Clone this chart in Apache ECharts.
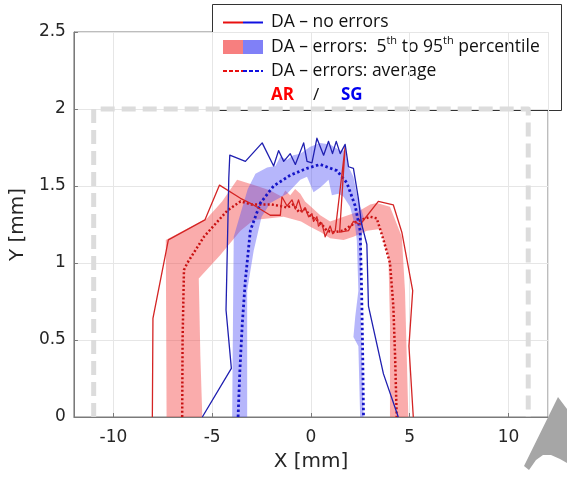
<!DOCTYPE html>
<html><head><meta charset="utf-8">
<script src="https://cdn.jsdelivr.net/npm/echarts@6/dist/echarts.min.js"></script>
<style>html,body{margin:0;padding:0;background:#fff}#c{width:567px;height:481px}</style>
</head><body><div id="c"></div>
<script>
// ---- data (mm) ----
const xRange = [-12, 12];
const yRange = [0, 2.5];
const yStep = 0.5;
const boundaryBox = [[-11,0],[-11,2],[11,2],[11,0]];

const arNoErrors = [[-8.03,0],[-8.0,0.64],[-7.22,1.15],[-5.37,1.28],[-4.63,1.506],[-3.57,1.42],[-2.91,1.377],[-2.06,1.31],[-1.55,1.31],[-1.47,1.43],[-1.21,1.37],[-0.96,1.41],[-0.79,1.35],[-0.63,1.41],[-0.45,1.33],[-0.3,1.36],[-0.12,1.30],[0.05,1.32],[0.13,1.27],[0.3,1.30],[0.38,1.24],[0.55,1.26],[0.72,1.17],[0.97,1.24],[1.1,1.19],[1.23,1.21],[1.73,1.755],[1.45,1.20],[1.9,1.21],[2.15,1.27],[2.49,1.25],[3.41,1.40],[4.17,1.377],[4.6,1.2],[5.15,0.82],[4.96,0.46],[5.18,0]];

const sgNoErrors = [[-5.5,0],[-4.03,0.316],[-4.3,0.695],[-4.25,1.0],[-4.16,1.55],[-4.11,1.70],[-3.32,1.66],[-2.47,1.78],[-1.89,1.63],[-1.64,1.73],[-1.38,1.66],[-1.05,1.71],[-0.79,1.64],[-0.37,1.78],[-0.2,1.66],[0.05,1.65],[0.3,1.81],[0.64,1.70],[0.89,1.79],[1.09,1.71],[1.28,1.79],[1.48,1.71],[1.73,1.77],[1.90,1.625],[2.15,1.615],[2.40,1.42],[2.55,1.26],[2.83,1.12],[2.91,0.72],[3.67,0.28],[4.42,0]];

const arAverage = [[-6.52,0],[-6.5,0.5],[-6.43,0.955],[-6.26,1.0],[-5.42,1.17],[-4.24,1.34],[-3.57,1.40],[-3.0,1.38],[-2.0,1.38],[-1.55,1.37],[-1.2,1.36],[-0.9,1.38],[-0.6,1.33],[-0.3,1.35],[0.0,1.30],[0.3,1.28],[0.55,1.25],[0.8,1.21],[1.14,1.20],[1.65,1.21],[2.32,1.27],[3.0,1.30],[3.33,1.29],[3.67,1.15],[4.0,1.0],[4.17,0.72],[4.26,0.39],[4.34,0]];

const sgAverage = [[-3.69,0],[-3.6,0.3],[-3.48,0.6],[-3.32,0.89],[-3.07,1.21],[-2.56,1.39],[-1.89,1.50],[-1.05,1.57],[-0.2,1.615],[0.47,1.64],[1.31,1.60],[1.82,1.52],[2.24,1.37],[2.49,1.21],[2.55,0.9],[2.57,0.78],[2.62,0.4],[2.66,0]];

const arBand = [[-7.31,0],[-7.33,0.6],[-7.35,1.15],[-6.3,1.22],[-5.26,1.29],[-4.5,1.40],[-3.74,1.54],[-2.73,1.50],[-2.06,1.47],[-1.47,1.43],[-1.3,1.47],[-1.05,1.44],[-0.8,1.48],[-0.54,1.45],[-0.3,1.40],[-0.04,1.37],[0.47,1.31],[0.97,1.27],[1.65,1.30],[2.32,1.33],[3.0,1.38],[3.33,1.39],[4.0,1.365],[4.6,1.17],[4.76,0.82],[4.85,0.39],[4.93,0],[4.0,0],[4.0,0.61],[3.92,1.04],[3.5,1.22],[2.83,1.21],[2.15,1.17],[1.65,1.15],[0.97,1.16],[0.5,1.2],[-0.04,1.235],[-0.5,1.27],[-1.38,1.30],[-2.9,1.28],[-3.57,1.21],[-4.6,1.05],[-5.68,0.90],[-5.6,0.4],[-5.5,0]];

const sgBand = [[-3.99,0],[-3.95,0.6],[-3.91,1.17],[-3.57,1.32],[-3.2,1.48],[-2.81,1.58],[-2.22,1.62],[-1.80,1.63],[-1.55,1.69],[-1.2,1.67],[-0.9,1.70],[-0.54,1.71],[-0.04,1.755],[0.47,1.78],[0.97,1.77],[1.48,1.73],[1.73,1.73],[1.9,1.625],[2.15,1.56],[2.32,1.45],[2.57,1.34],[2.66,1.30],[2.57,1.15],[2.49,0.82],[2.57,0.46],[2.66,0],[2.49,0],[2.40,0.46],[2.15,0.52],[2.24,0.65],[2.40,0.82],[2.32,1.15],[2.24,1.235],[1.98,1.365],[1.65,1.43],[1.39,1.45],[1.06,1.44],[0.89,1.54],[0.64,1.51],[0.47,1.49],[0.13,1.46],[-0.2,1.56],[-0.54,1.54],[-1.21,1.45],[-2.06,1.39],[-2.5,1.30],[-2.9,1.08],[-3.23,0.82],[-3.23,0]];

// ---- styles ----
const C = {
  arLine:'#d42424', sgLine:'#1f1fb0',
  arAvg:'#c81010', sgAvg:'#1515c8',
  arFill:'rgba(244,70,70,0.45)', sgFill:'rgba(80,80,245,0.42)',
  axis:'#7a7a7a', text:'#262626', grid:'#e6e6e6'
};

function lineSeries(name, data, color, width, type, z){
  return {type:'line', name, data, z, showSymbol:false, symbol:'none', silent:true,
    lineStyle:{color, width, type, cap:'butt', join:'round'}, animation:false};
}
function bandSeries(name, pts, color, z){
  return {type:'custom', name, data: pts, z, silent:true, clip:true, animation:false,
    encode:{x:0, y:1},
    renderItem:(params, api)=>{
      if (params.dataIndex !== 0) return null;
      return {type:'polygon', shape:{points: pts.map(p=>api.coord(p))}, style:{fill:color}};
    }};
}

const chart = echarts.init(document.getElementById('c'), null, {renderer:'canvas'});
const legendFont = '"Open Sans", sans-serif';
const LF = 17.5;
chart.setOption({
  animation:false,
  backgroundColor:'#fff',
  grid:{left:73, right:19, top:32, bottom:64, show:true, borderColor:C.axis, borderWidth:1, backgroundColor:'transparent'},
  xAxis:{type:'value', min:xRange[0], max:xRange[1], splitNumber:5,
    name:'X [mm]', nameLocation:'middle', nameGap:35,
    nameTextStyle:{color:C.text, fontSize:20, fontFamily:'DejaVu Sans'},
    axisLine:{show:true, onZero:false, lineStyle:{color:C.axis}},
    axisTick:{show:true, inside:true, length:4, lineStyle:{color:C.axis}},
    axisLabel:{color:C.text, fontSize:17, fontFamily:'DejaVu Sans', margin:12, showMinLabel:false, showMaxLabel:false},
    splitLine:{show:true, lineStyle:{color:C.grid, width:1}}},
  yAxis:{type:'value', min:yRange[0], max:yRange[1], interval:yStep,
    name:'Y [mm]', nameLocation:'middle', nameGap:45, nameRotate:90,
    nameTextStyle:{color:C.text, fontSize:20, fontFamily:'DejaVu Sans'},
    axisLine:{show:true, onZero:false, lineStyle:{color:C.axis}},
    axisTick:{show:true, inside:true, length:4, lineStyle:{color:C.axis}},
    axisLabel:{color:C.text, fontSize:17, fontFamily:'DejaVu Sans', margin:8},
    splitLine:{show:true, lineStyle:{color:C.grid, width:1}}},
  series:[
    lineSeries('box', boundaryBox, '#dcdcdc', 5, [14,7], 1),
    bandSeries('AR band', arBand, C.arFill, 2),
    bandSeries('SG band', sgBand, C.sgFill, 3),
    lineSeries('AR avg', arAverage, C.arAvg, 2.5, [2,2.2], 4),
    lineSeries('SG avg', sgAverage, C.sgAvg, 2.8, [2.5,2.5], 5),
    lineSeries('AR no errors', arNoErrors, C.arLine, 1.3, 'solid', 6),
    lineSeries('SG no errors', sgNoErrors, C.sgLine, 1.3, 'solid', 7)
  ],
  graphic:[
    {type:'group', z:100, children:[
      {type:'rect', shape:{x:212.5, y:4.5, width:349, height:106}, style:{fill:'#fff', stroke:'#333', lineWidth:1}},
      {type:'line', shape:{x1:223,y1:22.5,x2:243,y2:22.5}, style:{stroke:'#e81010', lineWidth:2}},
      {type:'line', shape:{x1:243,y1:22.5,x2:263,y2:22.5}, style:{stroke:'#1010e0', lineWidth:2}},
      {type:'rect', shape:{x:223,y:40,width:20,height:14}, style:{fill:'#f77f7f'}},
      {type:'rect', shape:{x:243,y:40,width:20,height:14}, style:{fill:'#8080f7'}},
      {type:'line', shape:{x1:223,y1:71,x2:243,y2:71}, style:{stroke:'#e81010', lineWidth:2, lineDash:[4,2]}},
      {type:'line', shape:{x1:243,y1:71,x2:263,y2:71}, style:{stroke:'#1010e0', lineWidth:2, lineDash:[4,2]}},
      {type:'text', x:271, y:22.5, style:{text:'DA – no errors', fill:'#111', font:LF+'px '+legendFont, verticalAlign:'middle'}},
      {type:'text', x:271, y:47, style:{text:'{n|DA – errors:  5}{s|th}{n| to 95}{s|th}{n| percentile}', fill:'#111', verticalAlign:'middle',
        rich:{n:{fontSize:LF, fontFamily:legendFont, fill:'#111', lineHeight:23, verticalAlign:'middle'},
              s:{fontSize:11, fontFamily:legendFont, fill:'#111', lineHeight:12, verticalAlign:'top'}}}},
      {type:'text', x:271, y:71, style:{text:'DA – errors: average', fill:'#111', font:LF+'px '+legendFont, verticalAlign:'middle'}},
      {type:'text', x:271, y:95, style:{text:'AR', fill:'#ff0000', font:'bold 17px '+legendFont, verticalAlign:'middle'}},
      {type:'text', x:313, y:95, style:{text:'/', fill:'#111', font:'17px '+legendFont, verticalAlign:'middle'}},
      {type:'text', x:341, y:95, style:{text:'SG', fill:'#0000ee', font:'bold 17px '+legendFont, verticalAlign:'middle'}}
    ]},
    {type:'polygon', z:100, shape:{points:[[558,397],[567,409],[567,463],[560,459],[551,455],[543,455],[536,460],[529,470],[524,466]]}, style:{fill:'#a6a6a6'}}
  ]
});
</script></body></html>
